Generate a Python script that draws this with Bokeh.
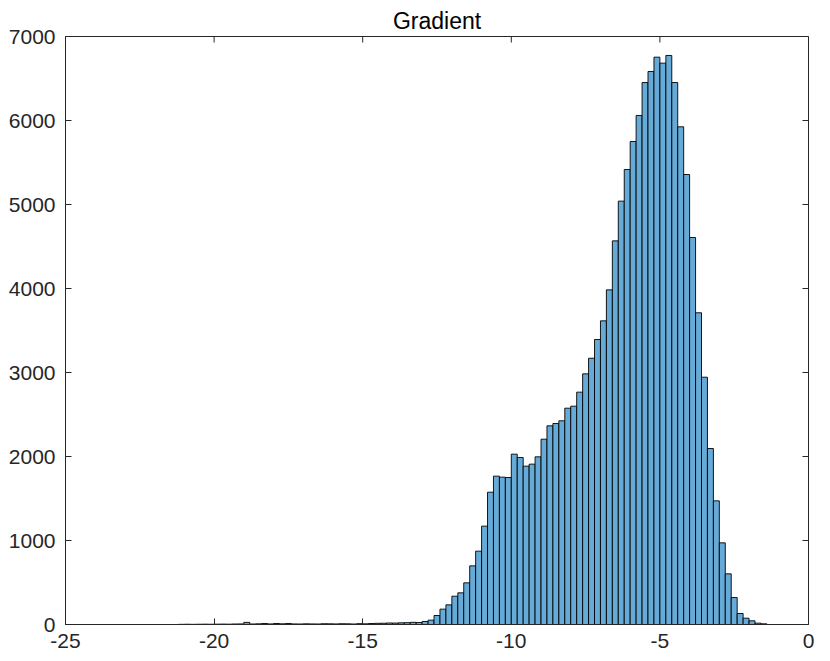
import numpy as np
from bokeh.plotting import figure
from bokeh.models import Range1d, FixedTicker, ColumnDataSource, CustomJSTickFormatter
from bokeh.embed import file_html
from bokeh.resources import INLINE

title_text = "Gradient"
bin_start = -21.2
bin_width = 0.2
counts = [
    2, 3, 2, 3, 4, 3, 4, 5, 4, 6,
    7, 25, 6, 8, 12, 7, 12, 8, 12, 7,
    6, 8, 7, 6, 9, 8, 7, 9, 8, 6,
    10, 8, 12, 14, 15, 18, 17, 20, 22, 26,
    24, 36, 52, 107, 183, 234, 337, 377, 496, 698,
    873, 1171, 1575, 1766, 1754, 1750, 2028, 1988, 1885, 1909,
    1996, 2206, 2365, 2393, 2425, 2575, 2599, 2766, 2984, 3170,
    3393, 3615, 3984, 4567, 5040, 5417, 5750, 6060, 6452, 6583,
    6754, 6683, 6774, 6452, 5925, 5357, 4607, 3711, 2944, 2095,
    1472, 972, 603, 321, 131, 75, 44, 16, 8,
]
x_ticks = [-25, -20, -15, -10, -5, 0]
y_ticks = [0, 1000, 2000, 3000, 4000, 5000, 6000, 7000]
x_lo, x_hi = -25, 0
y_lo, y_hi = 0, 7000

n = len(counts)
left = bin_start + bin_width * np.arange(n)
right = left + bin_width
src = ColumnDataSource(dict(left=left, right=right, top=counts, bottom=[0] * n))

AX = "#262626"
FONT = "Liberation Sans"

W, H = 828, 659
BL, BT, BR, BB = 65, 36, 20, 35
frame_w = W - BL - BR
frame_h = H - BT - BB

p = figure(width=W, height=H, output_backend="svg", toolbar_location=None,
           x_range=Range1d(x_lo, x_hi), y_range=Range1d(y_lo, y_hi),
           min_border_left=BL, min_border_right=BR, min_border_top=BT, min_border_bottom=BB,
           title=title_text)
p.title.align = "center"
p.title.text_font = FONT
p.title.text_font_size = "23px"
p.title.text_font_style = "normal"
p.title.text_color = "#000000"
p.title.standoff = 5
p.grid.visible = False
p.outline_line_color = AX
p.outline_line_width = 1

p.quad(left="left", right="right", top="top", bottom="bottom", source=src,
       fill_color="#66AAD7", line_color="#000000", line_width=0.9)

p.xaxis.ticker = FixedTicker(ticks=x_ticks)
p.yaxis.ticker = FixedTicker(ticks=y_ticks)
p.xaxis.formatter = CustomJSTickFormatter(code="return String(tick);")

for ax in [p.xaxis[0], p.yaxis[0]]:
    ax.axis_line_color = AX
    ax.major_tick_line_color = AX
    ax.major_tick_in = 6
    ax.major_tick_out = 0
    ax.minor_tick_line_color = None
    ax.major_label_text_font = FONT
    ax.major_label_text_font_size = "21px"
    ax.major_label_text_color = AX
p.xaxis[0].major_label_standoff = 9
p.yaxis[0].major_label_standoff = 10

# inward ticks on the top and right edges of the box (6 px long)
tick_px = 6
dx = (x_hi - x_lo) / frame_w * tick_px
dy = (y_hi - y_lo) / frame_h * tick_px
p.segment(x0=x_ticks, y0=[y_hi] * len(x_ticks), x1=x_ticks, y1=[y_hi - dy] * len(x_ticks),
          line_color=AX, line_width=1)
p.segment(x0=[x_hi] * len(y_ticks), y0=y_ticks, x1=[x_hi - dx] * len(y_ticks), y1=y_ticks,
          line_color=AX, line_width=1)

open("out.html", "w").write(file_html(p, INLINE))
